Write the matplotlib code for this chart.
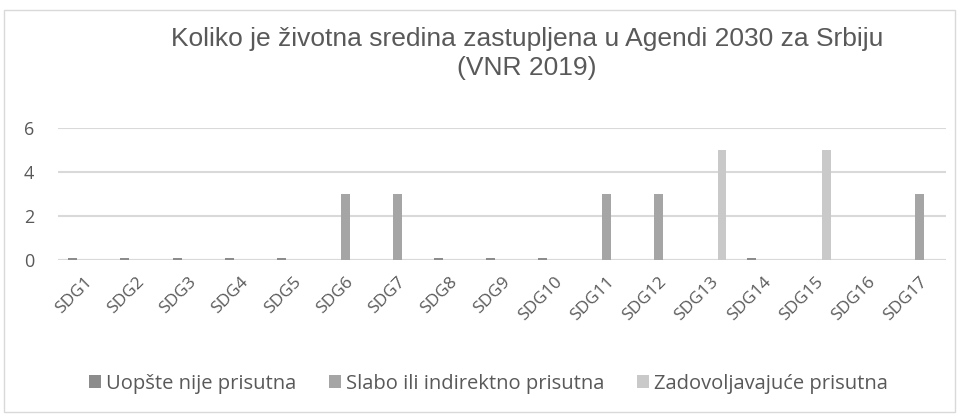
import matplotlib.pyplot as plt
import numpy as np
from matplotlib.patches import Rectangle

# SDG categories and the three presence levels
categories = ['SDG1', 'SDG2', 'SDG3', 'SDG4', 'SDG5', 'SDG6', 'SDG7', 'SDG8', 'SDG9',
              'SDG10', 'SDG11', 'SDG12', 'SDG13', 'SDG14', 'SDG15', 'SDG16', 'SDG17']
nije_prisutna = [0.1, 0.1, 0.1, 0.1, 0.1, 0, 0, 0.1, 0.1, 0.1, 0, 0, 0, 0.1, 0, 0, 0]
slabo_prisutna = [0, 0, 0, 0, 0, 3, 3, 0, 0, 0, 3, 3, 0, 0, 0, 0, 3]
zadovoljavajuce = [0, 0, 0, 0, 0, 0, 0, 0, 0, 0, 0, 0, 5, 0, 5, 0, 0]
series_names = ['Uopšte nije prisutna', 'Slabo ili indirektno prisutna', 'Zadovoljavajuće prisutna']
yticks = [0, 2, 4, 6]

colors = ['#8c8c8c', '#a5a5a5', '#c9c9c9']
label_font = ['Open Sans', 'DejaVu Sans']

fig = plt.figure(figsize=(9.65, 4.16), dpi=100)
fig.patches.append(Rectangle((0.004, 0.01), 0.986, 0.965, transform=fig.transFigure,
                             fill=False, edgecolor='#d9d9d9', linewidth=1))
ax = fig.add_axes([0.060, 0.375, 0.920, 0.317])

x = np.arange(len(categories))
w = 0.17
off = 0.217
for vals, c, name, dx in zip([nije_prisutna, slabo_prisutna, zadovoljavajuce], colors, series_names, [-off, 0, off]):
    ax.bar(x + dx, vals, width=w, color=c, label=name, zorder=3)

ax.set_xlim(-0.5, len(categories) - 0.5)
ax.set_ylim(0, 6)
ax.set_yticks(yticks)
ax.yaxis.grid(True, color='#d9d9d9', linewidth=1.5, zorder=0)
ax.axhline(0, color='#d9d9d9', linewidth=1.5, zorder=2)
for s in ax.spines.values():
    s.set_visible(False)
ax.tick_params(length=0)
ax.tick_params(axis='y', pad=17)
ax.set_yticklabels([str(t) for t in yticks], fontsize=13, color='#595959', family=label_font)
ax.set_xticks(x)
ax.set_xticklabels(categories, rotation=45, ha='right', rotation_mode='anchor',
                   fontsize=12.5, color='#595959', family=label_font)
ax.tick_params(axis='x', pad=10)

fig.text(0.546, 0.872, 'Koliko je životna sredina zastupljena u Agendi 2030 za Srbiju\n(VNR 2019)',
         ha='center', va='center', fontsize=19, color='#595959', family='Liberation Sans',
         linespacing=1.25)

ax.legend(loc='center', bbox_to_anchor=(0.485, -0.94), ncol=3, frameon=False,
          handlelength=0.6, handleheight=0.6, handletextpad=0.25, columnspacing=1.6,
          prop={'family': label_font, 'size': 14.5}, labelcolor='#595959')

fig.savefig('out.png', dpi=100)
